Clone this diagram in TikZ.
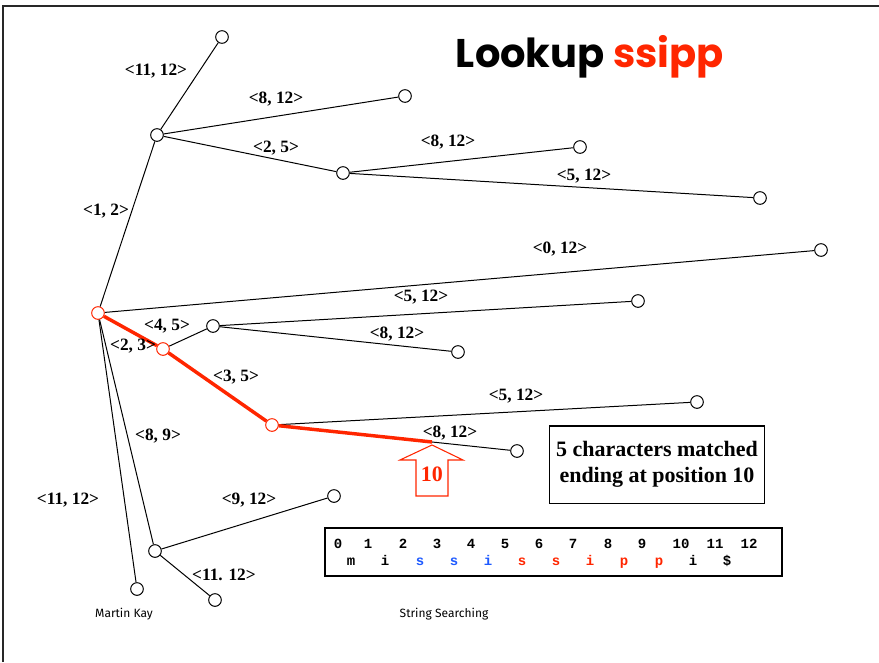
\documentclass[tikz,border=0pt]{standalone}
\usepackage{fontspec}
\setmainfont{Liberation Serif}
\newfontfamily\titlefont{Poppins}
\newfontfamily\footfont{Fira Sans}
\newfontfamily\codefont{Liberation Mono}
\usetikzlibrary{calc}
\definecolor{hot}{RGB}{255,38,0}
\definecolor{cool}{RGB}{30,90,255}
\definecolor{framegray}{RGB}{40,40,40}

\begin{document}
\begin{tikzpicture}[x=0.75pt,y=-0.75pt,
  vtx/.style={circle,draw,fill=white,inner sep=0pt,minimum size=9.5pt,line width=0.75pt},
  hotvtx/.style={vtx,draw=hot},
  edge/.style={line width=0.75pt},
  matchedge/.style={draw=hot,line width=2.6pt},
  lbl/.style={font=\bfseries\fontsize{13}{13}\selectfont,inner sep=0pt},
  note/.style={font=\bfseries\fontsize{16.5}{19.5}\selectfont,align=center},
  code/.style={font=\codefont\bfseries\fontsize{10.5}{10.5}\selectfont,inner sep=0pt,anchor=base},
  foot/.style={font=\footfont\fontsize{9}{9}\selectfont,inner sep=0pt}]

\useasboundingbox (0,0) rectangle (879,662);

% slide frame (top and left edges)
\draw[framegray,line width=1.1pt] (3,662) -- (3,6) -- (879,6);

% title
\node[font=\titlefont\bfseries\fontsize{30}{30}\selectfont,inner sep=0pt] (title) at (590,57) {Lookup \textcolor{hot}{ssipp}};

% vertices
\node[hotvtx] (R)  at (98,313) {};
\node[vtx] (A)  at (157,135) {};
\node[vtx] (A1) at (222,37) {};
\node[vtx] (A2) at (405,96) {};
\node[vtx] (B)  at (343,173) {};
\node[vtx] (B1) at (580,147) {};
\node[vtx] (B2) at (760,198) {};
\node[vtx] (C)  at (821,250) {};
\node[vtx] (E)  at (213,326) {};
\node[vtx] (E1) at (638,301) {};
\node[vtx] (E2) at (458,352) {};
\node[hotvtx] (F) at (163,349) {};
\node[hotvtx] (G) at (272,425) {};
\node[vtx] (G1) at (697,402) {};
\node[vtx] (G2) at (517,451) {};
\node[vtx] (J)  at (155,551) {};
\node[vtx] (J1) at (334,496) {};
\node[vtx] (J2) at (215,600) {};
\node[vtx] (M)  at (137,589) {};

% black edges
\draw[edge] (R) -- (A);
\draw[edge] (A) -- (A1);
\draw[edge] (A) -- (A2);
\draw[edge] (A) -- (B);
\draw[edge] (B) -- (B1);
\draw[edge] (B) -- (B2);
\draw[edge] (R) -- (C);
\draw[edge] (F) -- (E);
\draw[edge] (E) -- (E1);
\draw[edge] (E) -- (E2);
\draw[edge] (G) -- (G1);
\draw[edge] (G) -- (G2);
\draw[edge] (R) -- (J);
\draw[edge] (R) -- (M);
\draw[edge] (J) -- (J1);
\draw[edge] (J) -- (J2);

% matched path
\coordinate (cut) at ($(G)!0.653!(G2)$);
\draw[matchedge] (R) -- (F);
\draw[matchedge] (F) -- (G);
\draw[matchedge] (G) -- (cut);

% edge labels
\node[lbl] at (156,71)  {<11, 12>};
\node[lbl] at (276,99)  {<8, 12>};
\node[lbl] at (276,148) {<2, 5>};
\node[lbl] at (448,142) {<8, 12>};
\node[lbl] at (584,176) {<5, 12>};
\node[lbl] at (106,211) {<1, 2>};
\node[lbl] at (560,249) {<0, 12>};
\node[lbl] at (421,297) {<5, 12>};
\node[lbl] at (167,326) {<4, 5>};
\node[lbl] at (133,346) {<2, 3>};
\node[lbl] at (397,334) {<8, 12>};
\node[lbl] at (236,377) {<3, 5>};
\node[lbl] at (516,396) {<5, 12>};
\node[lbl] at (158,436) {<8, 9>};
\node[lbl] at (450,433) {<8, 12>};
\node[lbl] at (68,500)  {<11, 12>};
\node[lbl] at (249,500) {<9, 12>};
\node[lbl] at (224,575) {<11. 12>};

% position marker
\draw[hot,line width=0.8pt,fill=white]
  ($(cut)+(0,3)$) -- ++(31,15) -- ++(-15,0) -- ++(0,36) -- ++(-32,0) -- ++(0,-36) -- ++(-16,0) -- cycle;
\node[text=hot,font=\bfseries\fontsize{16.5}{16.5}\selectfont,inner sep=0pt] (pos) at ($(cut)+(0,32)$) {10};

% result note
\node[note,draw,line width=1pt,minimum width=161pt,minimum height=58pt,inner sep=0pt] (res) at (657,464.5)
  {5 characters matched\\ending at position 10};

% text string with positions
\node[draw,line width=1pt,minimum width=342.75pt,minimum height=36pt,inner sep=0pt] (str) at (553.5,552) {};
\foreach \d/\x in {0/338,1/368,2/403,3/437,4/471,5/505,6/539,7/573,8/608,9/642,10/681,11/715,12/749}
  \node[code] (d\d) at (\x,548) {\d};
\foreach \c/\x/\col [count=\i from 0] in {m/351/black,i/385/black,s/420/cool,s/454/cool,i/488/cool,s/522/hot,s/556/hot,i/590/hot,p/624/hot,p/659/hot,i/693/black,\$/727/black}
  \node[code,text=\col] (c\i) at (\x,565) {\c};

% footer
\node[foot] (author) at (124,614) {Martin Kay};
\node[foot] (topic) at (444,614) {String Searching};
\end{tikzpicture}
\end{document}
